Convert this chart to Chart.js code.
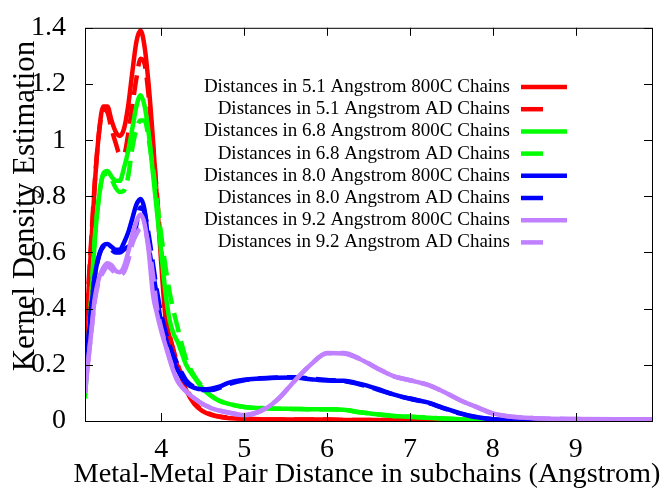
<!DOCTYPE html>
<html>
<head>
<meta charset="utf-8">
<script src="https://cdn.jsdelivr.net/npm/chart.js@4.4.1/dist/chart.umd.min.js"></script>
<style>
  html, body { margin: 0; padding: 0; background: #fff; }
  #wrap { width: 662px; height: 492px; }
</style>
</head>
<body>
<div id="wrap"><canvas id="kde"></canvas></div>
<script>
// pair distance grid (Angstrom)
const distances = [3.08, 3.15, 3.2, 3.25, 3.3, 3.35, 3.4, 3.45, 3.5, 3.55, 3.6, 3.65, 3.7, 3.75, 3.8, 3.85, 3.9, 3.95,
    4.0, 4.05, 4.1, 4.15, 4.2, 4.25, 4.3, 4.4, 4.5, 4.6, 4.7, 4.8, 5.0, 5.2, 5.4, 5.6, 5.8, 6.0, 6.2, 6.4, 6.6, 6.8,
    7.0, 7.2, 7.4, 7.6, 7.8, 8.0, 8.2, 8.5, 9.0, 9.5, 9.92];

const kde51_800C = [0.25, 0.6, 0.85, 1.03, 1.12, 1.12, 1.07, 1.03, 1.015, 1.04, 1.12, 1.24, 1.35, 1.39, 1.33, 1.19, 1.0, 0.78,
    0.56, 0.37, 0.3, 0.245, 0.19, 0.15, 0.11, 0.06, 0.035, 0.022, 0.015, 0.011, 0.008, 0.006, 0.005, 0.005, 0.005, 0.005, 0.004, 0.004, 0.004, 0.004,
    0.004, 0.003, 0.003, 0.003, 0.002, 0.002, 0.002, 0.002, 0.002, 0.002, 0.002];
const kde51_AD = [0.28, 0.62, 0.86, 1.03, 1.11, 1.1, 1.04, 0.99, 0.95, 0.95, 1.02, 1.12, 1.22, 1.29, 1.27, 1.15, 0.98, 0.8,
    0.6, 0.41, 0.31, 0.25, 0.2, 0.16, 0.12, 0.065, 0.038, 0.024, 0.016, 0.012, 0.008, 0.006, 0.005, 0.005, 0.005, 0.005, 0.004, 0.004, 0.004, 0.004,
    0.004, 0.003, 0.003, 0.003, 0.002, 0.002, 0.002, 0.002, 0.002, 0.002, 0.002];
const kde68_800C = [0.08, 0.4, 0.65, 0.8, 0.88, 0.89, 0.87, 0.855, 0.855, 0.9, 0.96, 1.04, 1.12, 1.16, 1.12, 1.02, 0.88, 0.74,
    0.6, 0.46, 0.36, 0.31, 0.28, 0.24, 0.2, 0.155, 0.115, 0.09, 0.072, 0.062, 0.05, 0.046, 0.044, 0.043, 0.042, 0.042, 0.04, 0.031, 0.024, 0.018,
    0.015, 0.012, 0.009, 0.006, 0.004, 0.003, 0.002, 0.002, 0.002, 0.002, 0.002];
const kde68_AD = [0.1, 0.42, 0.66, 0.8, 0.875, 0.88, 0.86, 0.83, 0.815, 0.82, 0.87, 0.97, 1.04, 1.07, 1.07, 1.0, 0.9, 0.78,
    0.66, 0.55, 0.46, 0.39, 0.33, 0.27, 0.22, 0.16, 0.12, 0.09, 0.072, 0.062, 0.05, 0.046, 0.044, 0.043, 0.042, 0.042, 0.04, 0.031, 0.024, 0.018,
    0.015, 0.012, 0.009, 0.006, 0.004, 0.003, 0.002, 0.002, 0.002, 0.002, 0.002];
const kde80_800C = [0.14, 0.38, 0.52, 0.59, 0.625, 0.63, 0.62, 0.61, 0.61, 0.635, 0.67, 0.72, 0.77, 0.79, 0.75, 0.62, 0.53, 0.44,
    0.35, 0.3, 0.25, 0.21, 0.18, 0.155, 0.135, 0.118, 0.113, 0.115, 0.122, 0.135, 0.147, 0.151, 0.154, 0.155, 0.149, 0.144, 0.143, 0.132, 0.115, 0.095,
    0.08, 0.067, 0.047, 0.028, 0.014, 0.006, 0.003, 0.002, 0.002, 0.002, 0.002];
const kde80_AD = [0.15, 0.39, 0.52, 0.59, 0.62, 0.625, 0.61, 0.6, 0.6, 0.61, 0.62, 0.63, 0.7, 0.76, 0.74, 0.66, 0.56, 0.46,
    0.38, 0.32, 0.27, 0.23, 0.2, 0.17, 0.145, 0.12, 0.11, 0.11, 0.118, 0.13, 0.145, 0.152, 0.155, 0.156, 0.151, 0.146, 0.142, 0.13, 0.113, 0.094,
    0.079, 0.066, 0.046, 0.027, 0.013, 0.006, 0.003, 0.002, 0.002, 0.002, 0.002];
const kde92_800C = [0.1, 0.3, 0.44, 0.51, 0.545, 0.562, 0.555, 0.535, 0.53, 0.55, 0.6, 0.66, 0.71, 0.735, 0.7, 0.6, 0.45, 0.38,
    0.32, 0.27, 0.22, 0.175, 0.14, 0.12, 0.105, 0.08, 0.06, 0.046, 0.037, 0.03, 0.021, 0.035, 0.075, 0.14, 0.2, 0.242, 0.24, 0.22, 0.188, 0.16,
    0.145, 0.13, 0.105, 0.075, 0.05, 0.027, 0.016, 0.01, 0.007, 0.006, 0.006];
const kde92_AD = [0.11, 0.3, 0.43, 0.5, 0.53, 0.55, 0.54, 0.525, 0.52, 0.53, 0.57, 0.63, 0.665, 0.685, 0.68, 0.62, 0.52, 0.4,
    0.33, 0.275, 0.225, 0.18, 0.145, 0.122, 0.106, 0.081, 0.061, 0.047, 0.038, 0.031, 0.022, 0.036, 0.076, 0.14, 0.2, 0.241, 0.242, 0.221, 0.189, 0.16,
    0.145, 0.13, 0.105, 0.075, 0.05, 0.027, 0.016, 0.01, 0.007, 0.006, 0.006];

const seriesLabels = [
    'Distances in 5.1 Angstrom 800C Chains',
    'Distances in 5.1 Angstrom AD Chains',
    'Distances in 6.8 Angstrom 800C Chains',
    'Distances in 6.8 Angstrom AD Chains',
    'Distances in 8.0 Angstrom 800C Chains',
    'Distances in 8.0 Angstrom AD Chains',
    'Distances in 9.2 Angstrom 800C Chains',
    'Distances in 9.2 Angstrom AD Chains'
];
const seriesValues = [kde51_800C, kde51_AD, kde68_800C, kde68_AD, kde80_800C, kde80_AD, kde92_800C, kde92_AD];
const seriesColors = ['#ff0000', '#ff0000', '#00ff00', '#00ff00', '#0000ff', '#0000ff', '#c080ff', '#c080ff'];
const seriesDashed = [false, true, false, true, false, true, false, true];

const xTicks = [4, 5, 6, 7, 8, 9];
const yTicks = [0, 0.2, 0.4, 0.6, 0.8, 1, 1.2, 1.4];
const xLabel = 'Metal-Metal Pair Distance in subchains (Angstrom)';
const yLabel = 'Kernel Density Estimation';

const FONT = "'Liberation Serif', 'DejaVu Serif', serif";
const DASH = [20, 9];
const LW = 4.5;

// gnuplot style frame with inward ticks on all four sides
const framePlugin = {
    id: 'frame',
    afterDatasetsDraw(chart) {
        const ctx = chart.ctx;
        const a = chart.chartArea;
        const xs = chart.scales.x, ys = chart.scales.y;
        ctx.save();
        ctx.strokeStyle = '#000';
        ctx.lineWidth = 1;
        ctx.strokeRect(a.left + 0.5, a.top + 0.5, a.right - a.left, a.bottom - a.top);
        ctx.beginPath();
        for (const v of xTicks) {
            const px = Math.round(xs.getPixelForValue(v)) + 0.5;
            ctx.moveTo(px, a.bottom); ctx.lineTo(px, a.bottom - 8);
            ctx.moveTo(px, a.top); ctx.lineTo(px, a.top + 8);
        }
        for (const v of yTicks) {
            const py = Math.round(ys.getPixelForValue(v)) + 0.5;
            ctx.moveTo(a.left, py); ctx.lineTo(a.left + 8, py);
            ctx.moveTo(a.right, py); ctx.lineTo(a.right - 8, py);
        }
        ctx.stroke();
        ctx.restore();
    }
};

// key (text right aligned, sample on the right) and the two axis labels,
// drawn by hand because chart.js squeezes the x title to the axis width
const keyPlugin = {
    id: 'key',
    afterDraw(chart) {
        const ctx = chart.ctx;
        ctx.save();
        ctx.font = '19px ' + FONT;
        ctx.textAlign = 'right';
        ctx.textBaseline = 'middle';
        seriesLabels.forEach((label, i) => {
            const y = 87 + i * 22.2;
            ctx.fillStyle = '#000';
            ctx.fillText(label, 510, y);
            ctx.strokeStyle = seriesColors[i];
            ctx.lineWidth = LW;
            ctx.beginPath();
            ctx.moveTo(521, y);
            ctx.lineTo(seriesDashed[i] ? 543 : 567, y);
            ctx.stroke();
        });

        ctx.textAlign = 'center';
        ctx.font = '28.3px ' + FONT;
        ctx.fillText(xLabel, 367, 475);

        ctx.translate(26, 206);
        ctx.rotate(-Math.PI / 2);
        ctx.font = '31px ' + FONT;
        ctx.fillText(yLabel, 0, 0);
        ctx.restore();
    }
};

new Chart(document.getElementById('kde').getContext('2d'), {
    type: 'line',
    data: {
        datasets: seriesValues.map((vals, i) => ({
            label: seriesLabels[i],
            data: vals.map((v, j) => ({ x: distances[j], y: v })),
            borderColor: seriesColors[i],
            borderWidth: LW,
            borderDash: seriesDashed[i] ? DASH : [],
            pointRadius: 0,
            fill: false,
            cubicInterpolationMode: 'monotone',
            order: seriesValues.length - i
        }))
    },
    options: {
        responsive: true,
        maintainAspectRatio: false,
        animation: false,
        layout: { padding: { top: 17, right: 10, left: 0, bottom: 0 } },
        plugins: {
            legend: { display: false },
            tooltip: { enabled: false }
        },
        scales: {
            x: {
                type: 'linear',
                min: 3.08,
                max: 9.92,
                afterBuildTicks: s => { s.ticks = xTicks.map(v => ({ value: v })); },
                afterFit: s => { s.height = 71; },
                grid: { display: false },
                border: { display: false },
                ticks: { color: '#000', font: { family: FONT, size: 28 }, padding: 4, maxRotation: 0 }
            },
            y: {
                min: 0,
                max: 1.4,
                afterBuildTicks: s => { s.ticks = yTicks.map(v => ({ value: v })); },
                afterFit: s => { s.width = 85; },
                grid: { display: false },
                border: { display: false },
                ticks: { color: '#000', font: { family: FONT, size: 28 }, padding: 11, callback: v => String(v) }
            }
        }
    },
    plugins: [framePlugin, keyPlugin]
});
</script>
</body>
</html>
